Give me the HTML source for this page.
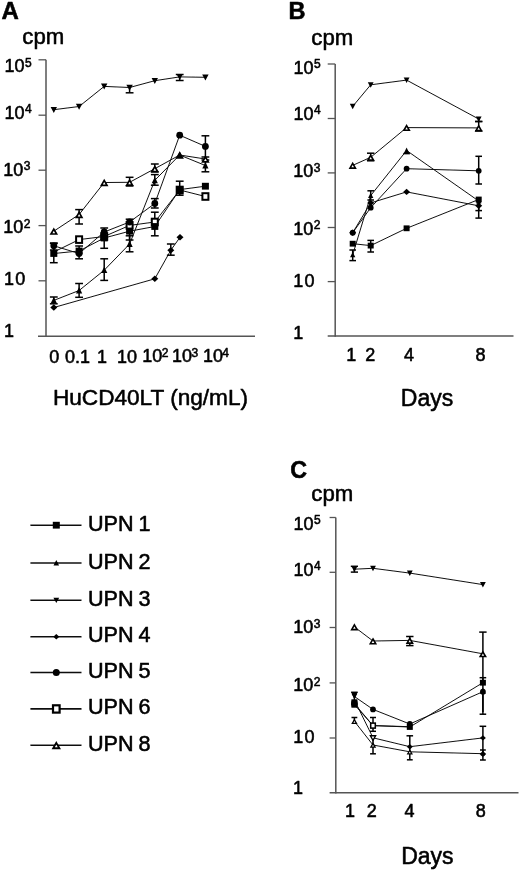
<!DOCTYPE html>
<html><head><meta charset="utf-8"><title>Figure</title>
<style>
html,body{margin:0;padding:0;background:#fff;}
body{width:520px;height:873px;overflow:hidden;}
svg{display:block;}
svg text{font-family:"Liberation Sans",sans-serif;fill:#000;stroke:#000;stroke-width:0.55px;stroke-linejoin:round;}
</style></head><body>
<svg width="520" height="873" viewBox="0 0 520 873">
<defs><filter id="soft" x="0" y="0" width="100%" height="100%" filterUnits="userSpaceOnUse"><feGaussianBlur stdDeviation="0.38"/></filter></defs>
<rect width="520" height="873" fill="#fff"/>
<g filter="url(#soft)">
<g id="panelA">
<line x1="46.0" y1="59.8" x2="46.0" y2="336.9" stroke="#555" stroke-width="1.5"/>
<line x1="38.0" y1="336.2" x2="255.0" y2="336.2" stroke="#555" stroke-width="1.5"/>
<line x1="38.5" y1="59.8" x2="46.0" y2="59.8" stroke="#555" stroke-width="1.3"/>
<line x1="38.5" y1="115.2" x2="46.0" y2="115.2" stroke="#555" stroke-width="1.3"/>
<line x1="38.5" y1="170.2" x2="46.0" y2="170.2" stroke="#555" stroke-width="1.3"/>
<line x1="38.5" y1="225.6" x2="46.0" y2="225.6" stroke="#555" stroke-width="1.3"/>
<line x1="38.5" y1="280.8" x2="46.0" y2="280.8" stroke="#555" stroke-width="1.3"/>
<text x="1.5" y="18.7" font-size="24" text-anchor="start" font-weight="bold">A</text>
<text x="22.3" y="44.0" font-size="22.2" text-anchor="start" font-weight="normal">cpm</text>
<text x="4.5" y="72.3" font-size="18">10<tspan font-size="12" dy="-5.5" dx="0.5">5</tspan></text>
<text x="4.5" y="118.5" font-size="18">10<tspan font-size="12" dy="-5.5" dx="0.5">4</tspan></text>
<text x="3.3" y="175.6" font-size="18">10<tspan font-size="12" dy="-5.5" dx="0.5">3</tspan></text>
<text x="3.3" y="233.0" font-size="18">10<tspan font-size="12" dy="-5.5" dx="0.5">2</tspan></text>
<text x="3.9" y="285.4" font-size="18" text-anchor="start" font-weight="normal" letter-spacing="1.3">10</text>
<text x="3.9" y="337.3" font-size="18" text-anchor="start" font-weight="normal">1</text>
<text x="54.3" y="362.5" font-size="18" text-anchor="middle" font-weight="normal">0</text>
<text x="77.5" y="362.5" font-size="18" text-anchor="middle" font-weight="normal">0.1</text>
<text x="102.0" y="362.5" font-size="18" text-anchor="middle" font-weight="normal">1</text>
<text x="127.0" y="362.5" font-size="18" text-anchor="middle" font-weight="normal">10</text>
<text x="142.3" y="362.0" font-size="18">10<tspan font-size="12" dy="-4.6" dx="-0.6">2</tspan></text>
<text x="172.1" y="362.0" font-size="18">10<tspan font-size="12" dy="-4.6" dx="-0.6">3</tspan></text>
<text x="202.9" y="362.0" font-size="18">10<tspan font-size="12" dy="-4.6" dx="-0.6">4</tspan></text>
<text x="150.5" y="404.5" font-size="22.6" text-anchor="middle" font-weight="normal">HuCD40LT (ng/mL)</text>
<polyline points="53.8,109.7 79.1,106.5 104.2,86.4 129.6,87.5 154.8,80.7 179.7,76.9 205.4,77.3" fill="none" stroke="#111" stroke-width="1.0"/>
<polyline points="53.8,307.5 154.8,278.8 170.8,250.2 180.0,237.3" fill="none" stroke="#111" stroke-width="1.0"/>
<polyline points="53.8,231.2 79.1,214.5 104.2,182.5 129.6,182.3 154.8,168.7 179.7,155.0 205.4,159.0" fill="none" stroke="#111" stroke-width="1.0"/>
<polyline points="53.8,300.4 79.1,290.5 104.2,270.2 129.6,244.0 154.8,180.3 179.7,155.0 205.4,165.5" fill="none" stroke="#111" stroke-width="1.0"/>
<polyline points="53.8,252.0 79.1,239.6 104.2,236.5 129.6,225.4 154.8,222.0 179.7,190.0 205.4,196.5" fill="none" stroke="#111" stroke-width="1.0"/>
<polyline points="53.8,253.5 79.1,251.0 104.2,238.0 129.6,231.2 154.8,226.5 179.7,189.6 205.4,186.2" fill="none" stroke="#111" stroke-width="1.0"/>
<polyline points="53.8,245.8 79.1,253.5 104.2,232.0 129.6,222.0 154.8,203.5 179.7,135.2 205.4,146.4" fill="none" stroke="#111" stroke-width="1.0"/>
<line x1="129.6" y1="87.5" x2="129.6" y2="92.8" stroke="#000" stroke-width="1.5"/>
<line x1="125.7" y1="92.8" x2="133.5" y2="92.8" stroke="#000" stroke-width="1.5"/>
<line x1="179.7" y1="74.5" x2="179.7" y2="80.5" stroke="#000" stroke-width="1.5"/>
<line x1="175.8" y1="74.5" x2="183.6" y2="74.5" stroke="#000" stroke-width="1.5"/>
<line x1="175.8" y1="80.5" x2="183.6" y2="80.5" stroke="#000" stroke-width="1.5"/>
<line x1="170.8" y1="244.0" x2="170.8" y2="255.2" stroke="#000" stroke-width="1.5"/>
<line x1="166.9" y1="244.0" x2="174.7" y2="244.0" stroke="#000" stroke-width="1.5"/>
<line x1="166.9" y1="255.2" x2="174.7" y2="255.2" stroke="#000" stroke-width="1.5"/>
<line x1="79.1" y1="209.6" x2="79.1" y2="224.0" stroke="#000" stroke-width="1.5"/>
<line x1="75.2" y1="209.6" x2="83.0" y2="209.6" stroke="#000" stroke-width="1.5"/>
<line x1="75.2" y1="224.0" x2="83.0" y2="224.0" stroke="#000" stroke-width="1.5"/>
<line x1="129.6" y1="177.3" x2="129.6" y2="186.0" stroke="#000" stroke-width="1.5"/>
<line x1="125.7" y1="177.3" x2="133.5" y2="177.3" stroke="#000" stroke-width="1.5"/>
<line x1="125.7" y1="186.0" x2="133.5" y2="186.0" stroke="#000" stroke-width="1.5"/>
<line x1="154.8" y1="164.0" x2="154.8" y2="172.0" stroke="#000" stroke-width="1.5"/>
<line x1="150.9" y1="164.0" x2="158.7" y2="164.0" stroke="#000" stroke-width="1.5"/>
<line x1="150.9" y1="172.0" x2="158.7" y2="172.0" stroke="#000" stroke-width="1.5"/>
<line x1="53.8" y1="297.0" x2="53.8" y2="303.8" stroke="#000" stroke-width="1.5"/>
<line x1="49.9" y1="297.0" x2="57.7" y2="297.0" stroke="#000" stroke-width="1.5"/>
<line x1="49.9" y1="303.8" x2="57.7" y2="303.8" stroke="#000" stroke-width="1.5"/>
<line x1="79.1" y1="283.5" x2="79.1" y2="297.3" stroke="#000" stroke-width="1.5"/>
<line x1="75.2" y1="283.5" x2="83.0" y2="283.5" stroke="#000" stroke-width="1.5"/>
<line x1="75.2" y1="297.3" x2="83.0" y2="297.3" stroke="#000" stroke-width="1.5"/>
<line x1="104.2" y1="258.8" x2="104.2" y2="280.4" stroke="#000" stroke-width="1.5"/>
<line x1="100.3" y1="258.8" x2="108.1" y2="258.8" stroke="#000" stroke-width="1.5"/>
<line x1="100.3" y1="280.4" x2="108.1" y2="280.4" stroke="#000" stroke-width="1.5"/>
<line x1="129.6" y1="235.8" x2="129.6" y2="251.8" stroke="#000" stroke-width="1.5"/>
<line x1="125.7" y1="235.8" x2="133.5" y2="235.8" stroke="#000" stroke-width="1.5"/>
<line x1="125.7" y1="251.8" x2="133.5" y2="251.8" stroke="#000" stroke-width="1.5"/>
<line x1="154.8" y1="174.6" x2="154.8" y2="185.2" stroke="#000" stroke-width="1.5"/>
<line x1="150.9" y1="174.6" x2="158.7" y2="174.6" stroke="#000" stroke-width="1.5"/>
<line x1="150.9" y1="185.2" x2="158.7" y2="185.2" stroke="#000" stroke-width="1.5"/>
<line x1="205.4" y1="160.0" x2="205.4" y2="171.8" stroke="#000" stroke-width="1.5"/>
<line x1="201.5" y1="160.0" x2="209.3" y2="160.0" stroke="#000" stroke-width="1.5"/>
<line x1="201.5" y1="171.8" x2="209.3" y2="171.8" stroke="#000" stroke-width="1.5"/>
<line x1="154.8" y1="212.2" x2="154.8" y2="222.0" stroke="#000" stroke-width="1.5"/>
<line x1="150.9" y1="212.2" x2="158.7" y2="212.2" stroke="#000" stroke-width="1.5"/>
<line x1="53.8" y1="243.5" x2="53.8" y2="262.7" stroke="#000" stroke-width="1.5"/>
<line x1="49.9" y1="243.5" x2="57.7" y2="243.5" stroke="#000" stroke-width="1.5"/>
<line x1="49.9" y1="262.7" x2="57.7" y2="262.7" stroke="#000" stroke-width="1.5"/>
<line x1="79.1" y1="246.0" x2="79.1" y2="258.8" stroke="#000" stroke-width="1.5"/>
<line x1="75.2" y1="246.0" x2="83.0" y2="246.0" stroke="#000" stroke-width="1.5"/>
<line x1="75.2" y1="258.8" x2="83.0" y2="258.8" stroke="#000" stroke-width="1.5"/>
<line x1="104.2" y1="228.0" x2="104.2" y2="248.3" stroke="#000" stroke-width="1.5"/>
<line x1="100.3" y1="228.0" x2="108.1" y2="228.0" stroke="#000" stroke-width="1.5"/>
<line x1="100.3" y1="248.3" x2="108.1" y2="248.3" stroke="#000" stroke-width="1.5"/>
<line x1="129.6" y1="219.2" x2="129.6" y2="240.0" stroke="#000" stroke-width="1.5"/>
<line x1="125.7" y1="219.2" x2="133.5" y2="219.2" stroke="#000" stroke-width="1.5"/>
<line x1="125.7" y1="240.0" x2="133.5" y2="240.0" stroke="#000" stroke-width="1.5"/>
<line x1="154.8" y1="220.0" x2="154.8" y2="235.8" stroke="#000" stroke-width="1.5"/>
<line x1="150.9" y1="220.0" x2="158.7" y2="220.0" stroke="#000" stroke-width="1.5"/>
<line x1="150.9" y1="235.8" x2="158.7" y2="235.8" stroke="#000" stroke-width="1.5"/>
<line x1="179.7" y1="181.2" x2="179.7" y2="195.2" stroke="#000" stroke-width="1.5"/>
<line x1="175.8" y1="181.2" x2="183.6" y2="181.2" stroke="#000" stroke-width="1.5"/>
<line x1="175.8" y1="195.2" x2="183.6" y2="195.2" stroke="#000" stroke-width="1.5"/>
<line x1="53.8" y1="243.0" x2="53.8" y2="250.0" stroke="#000" stroke-width="1.5"/>
<line x1="49.9" y1="243.0" x2="57.7" y2="243.0" stroke="#000" stroke-width="1.5"/>
<line x1="49.9" y1="250.0" x2="57.7" y2="250.0" stroke="#000" stroke-width="1.5"/>
<line x1="154.8" y1="198.6" x2="154.8" y2="208.0" stroke="#000" stroke-width="1.5"/>
<line x1="150.9" y1="198.6" x2="158.7" y2="198.6" stroke="#000" stroke-width="1.5"/>
<line x1="150.9" y1="208.0" x2="158.7" y2="208.0" stroke="#000" stroke-width="1.5"/>
<line x1="205.4" y1="135.8" x2="205.4" y2="157.0" stroke="#000" stroke-width="1.5"/>
<line x1="201.5" y1="135.8" x2="209.3" y2="135.8" stroke="#000" stroke-width="1.5"/>
<line x1="201.5" y1="157.0" x2="209.3" y2="157.0" stroke="#000" stroke-width="1.5"/>
<polygon points="50.6,106.9 57.0,106.9 53.8,112.9" fill="#000"/>
<polygon points="75.9,103.7 82.3,103.7 79.1,109.7" fill="#000"/>
<polygon points="101.0,83.6 107.4,83.6 104.2,89.6" fill="#000"/>
<polygon points="126.4,84.7 132.8,84.7 129.6,90.7" fill="#000"/>
<polygon points="151.6,77.9 158.0,77.9 154.8,83.9" fill="#000"/>
<polygon points="176.5,74.1 182.9,74.1 179.7,80.1" fill="#000"/>
<polygon points="202.2,74.5 208.6,74.5 205.4,80.5" fill="#000"/>
<polygon points="53.8,304.3 57.3,307.5 53.8,310.7 50.3,307.5" fill="#000"/>
<polygon points="154.8,275.6 158.3,278.8 154.8,282.0 151.3,278.8" fill="#000"/>
<polygon points="170.8,247.0 174.3,250.2 170.8,253.4 167.3,250.2" fill="#000"/>
<polygon points="180.0,234.1 183.5,237.3 180.0,240.5 176.5,237.3" fill="#000"/>
<polygon points="53.8,229.1 56.6,234.0 51.0,234.0" fill="#fff" stroke="#000" stroke-width="1.70" stroke-linejoin="miter"/>
<polygon points="79.1,212.4 81.9,217.3 76.3,217.3" fill="#fff" stroke="#000" stroke-width="1.70" stroke-linejoin="miter"/>
<polygon points="104.2,180.4 107.0,185.3 101.4,185.3" fill="#fff" stroke="#000" stroke-width="1.70" stroke-linejoin="miter"/>
<polygon points="129.6,180.2 132.4,185.1 126.8,185.1" fill="#fff" stroke="#000" stroke-width="1.70" stroke-linejoin="miter"/>
<polygon points="154.8,166.6 157.6,171.5 152.0,171.5" fill="#fff" stroke="#000" stroke-width="1.70" stroke-linejoin="miter"/>
<polygon points="179.7,152.9 182.5,157.8 176.9,157.8" fill="#fff" stroke="#000" stroke-width="1.70" stroke-linejoin="miter"/>
<polygon points="205.4,156.9 208.2,161.8 202.6,161.8" fill="#fff" stroke="#000" stroke-width="1.70" stroke-linejoin="miter"/>
<polygon points="53.8,297.0 56.9,303.3 50.7,303.3" fill="#000"/>
<polygon points="79.1,287.1 82.2,293.4 76.0,293.4" fill="#000"/>
<polygon points="104.2,266.8 107.3,273.1 101.1,273.1" fill="#000"/>
<polygon points="129.6,240.6 132.7,246.9 126.5,246.9" fill="#000"/>
<polygon points="154.8,176.9 157.9,183.2 151.7,183.2" fill="#000"/>
<polygon points="179.7,151.6 182.8,157.9 176.6,157.9" fill="#000"/>
<polygon points="205.4,162.1 208.5,168.4 202.3,168.4" fill="#000"/>
<rect x="76.1" y="236.3" width="6.0" height="6.6" fill="#fff" stroke="#000" stroke-width="2.00"/>
<rect x="101.2" y="233.2" width="6.0" height="6.6" fill="#fff" stroke="#000" stroke-width="2.00"/>
<rect x="126.6" y="222.1" width="6.0" height="6.6" fill="#fff" stroke="#000" stroke-width="2.00"/>
<rect x="151.8" y="218.7" width="6.0" height="6.6" fill="#fff" stroke="#000" stroke-width="2.00"/>
<rect x="176.7" y="186.7" width="6.0" height="6.6" fill="#fff" stroke="#000" stroke-width="2.00"/>
<rect x="202.4" y="193.2" width="6.0" height="6.6" fill="#fff" stroke="#000" stroke-width="2.00"/>
<rect x="50.3" y="250.1" width="7.0" height="6.8" fill="#000"/>
<rect x="75.6" y="247.6" width="7.0" height="6.8" fill="#000"/>
<rect x="100.7" y="234.6" width="7.0" height="6.8" fill="#000"/>
<rect x="126.1" y="227.8" width="7.0" height="6.8" fill="#000"/>
<rect x="151.3" y="223.1" width="7.0" height="6.8" fill="#000"/>
<rect x="176.2" y="186.2" width="7.0" height="6.8" fill="#000"/>
<rect x="201.9" y="182.8" width="7.0" height="6.8" fill="#000"/>
<circle cx="53.8" cy="245.8" r="3.4" fill="#000"/>
<circle cx="79.1" cy="253.5" r="3.4" fill="#000"/>
<circle cx="104.2" cy="232.0" r="3.4" fill="#000"/>
<circle cx="129.6" cy="222.0" r="3.4" fill="#000"/>
<circle cx="154.8" cy="203.5" r="3.4" fill="#000"/>
<circle cx="179.7" cy="135.2" r="3.4" fill="#000"/>
<circle cx="205.4" cy="146.4" r="3.4" fill="#000"/>
</g>
<g id="panelB">
<line x1="335.2" y1="64.0" x2="335.2" y2="336.7" stroke="#555" stroke-width="1.5"/>
<line x1="327.7" y1="336.0" x2="513.5" y2="336.0" stroke="#555" stroke-width="1.5"/>
<line x1="327.7" y1="64.0" x2="335.2" y2="64.0" stroke="#555" stroke-width="1.3"/>
<line x1="327.7" y1="118.5" x2="335.2" y2="118.5" stroke="#555" stroke-width="1.3"/>
<line x1="327.7" y1="172.9" x2="335.2" y2="172.9" stroke="#555" stroke-width="1.3"/>
<line x1="327.7" y1="227.5" x2="335.2" y2="227.5" stroke="#555" stroke-width="1.3"/>
<line x1="327.7" y1="281.6" x2="335.2" y2="281.6" stroke="#555" stroke-width="1.3"/>
<text x="288.6" y="18.5" font-size="23.5" text-anchor="start" font-weight="bold">B</text>
<text x="311.3" y="44.6" font-size="22.2" text-anchor="start" font-weight="normal">cpm</text>
<text x="293.5" y="73.8" font-size="18">10<tspan font-size="12" dy="-5.5" dx="0.5">5</tspan></text>
<text x="293.5" y="119.8" font-size="18">10<tspan font-size="12" dy="-5.5" dx="0.5">4</tspan></text>
<text x="293.2" y="177.3" font-size="18">10<tspan font-size="12" dy="-5.5" dx="0.5">3</tspan></text>
<text x="293.2" y="234.6" font-size="18">10<tspan font-size="12" dy="-5.5" dx="0.5">2</tspan></text>
<text x="293.2" y="286.8" font-size="18" text-anchor="start" font-weight="normal" letter-spacing="1.3">10</text>
<text x="293.2" y="338.5" font-size="18" text-anchor="start" font-weight="normal">1</text>
<text x="351.2" y="361.4" font-size="18" text-anchor="middle" font-weight="normal">1</text>
<text x="370.2" y="361.4" font-size="18" text-anchor="middle" font-weight="normal">2</text>
<text x="409.0" y="361.4" font-size="18" text-anchor="middle" font-weight="normal">4</text>
<text x="480.4" y="361.4" font-size="18" text-anchor="middle" font-weight="normal">8</text>
<text x="427.0" y="406.0" font-size="23" text-anchor="middle" font-weight="normal">Days</text>
<polyline points="352.7,106.4 370.7,84.8 406.6,80.1 478.7,119.0" fill="none" stroke="#111" stroke-width="1.0"/>
<polyline points="352.7,232.7 370.7,202.9 406.6,191.9 478.7,205.8" fill="none" stroke="#111" stroke-width="1.0"/>
<polyline points="352.7,254.8 370.7,195.6 406.6,150.5 478.7,201.0" fill="none" stroke="#111" stroke-width="1.0"/>
<polyline points="352.7,243.7 370.7,245.6 406.6,228.3 478.7,199.5" fill="none" stroke="#111" stroke-width="1.0"/>
<polyline points="352.7,232.7 370.7,207.7 406.6,168.7 478.7,170.8" fill="none" stroke="#111" stroke-width="1.0"/>
<polyline points="352.7,165.4 370.7,157.3 406.6,127.6 478.7,127.9" fill="none" stroke="#111" stroke-width="1.0"/>
<line x1="478.7" y1="117.0" x2="478.7" y2="121.5" stroke="#000" stroke-width="1.5"/>
<line x1="475.1" y1="121.5" x2="482.3" y2="121.5" stroke="#000" stroke-width="1.5"/>
<line x1="352.7" y1="250.0" x2="352.7" y2="260.6" stroke="#000" stroke-width="1.5"/>
<line x1="349.4" y1="250.0" x2="356.0" y2="250.0" stroke="#000" stroke-width="1.5"/>
<line x1="349.4" y1="260.6" x2="356.0" y2="260.6" stroke="#000" stroke-width="1.5"/>
<line x1="370.7" y1="190.8" x2="370.7" y2="200.0" stroke="#000" stroke-width="1.5"/>
<line x1="367.4" y1="190.8" x2="374.0" y2="190.8" stroke="#000" stroke-width="1.5"/>
<line x1="367.4" y1="200.0" x2="374.0" y2="200.0" stroke="#000" stroke-width="1.5"/>
<line x1="406.6" y1="150.0" x2="406.6" y2="153.6" stroke="#000" stroke-width="1.5"/>
<line x1="403.3" y1="153.6" x2="409.9" y2="153.6" stroke="#000" stroke-width="1.5"/>
<line x1="370.7" y1="240.4" x2="370.7" y2="252.0" stroke="#000" stroke-width="1.5"/>
<line x1="367.4" y1="240.4" x2="374.0" y2="240.4" stroke="#000" stroke-width="1.5"/>
<line x1="367.4" y1="252.0" x2="374.0" y2="252.0" stroke="#000" stroke-width="1.5"/>
<line x1="478.7" y1="199.0" x2="478.7" y2="218.1" stroke="#000" stroke-width="1.5"/>
<line x1="475.4" y1="218.1" x2="482.0" y2="218.1" stroke="#000" stroke-width="1.5"/>
<line x1="478.7" y1="199.0" x2="478.7" y2="210.6" stroke="#000" stroke-width="1.5"/>
<line x1="475.4" y1="210.6" x2="482.0" y2="210.6" stroke="#000" stroke-width="1.5"/>
<line x1="478.7" y1="156.3" x2="478.7" y2="184.0" stroke="#000" stroke-width="1.5"/>
<line x1="475.4" y1="156.3" x2="482.0" y2="156.3" stroke="#000" stroke-width="1.5"/>
<line x1="475.4" y1="184.0" x2="482.0" y2="184.0" stroke="#000" stroke-width="1.5"/>
<line x1="370.7" y1="153.2" x2="370.7" y2="160.8" stroke="#000" stroke-width="1.5"/>
<line x1="367.0" y1="153.2" x2="374.4" y2="153.2" stroke="#000" stroke-width="1.5"/>
<line x1="367.0" y1="160.8" x2="374.4" y2="160.8" stroke="#000" stroke-width="1.5"/>
<line x1="478.7" y1="121.5" x2="478.7" y2="131.0" stroke="#000" stroke-width="1.5"/>
<line x1="475.0" y1="121.5" x2="482.4" y2="121.5" stroke="#000" stroke-width="1.5"/>
<line x1="475.0" y1="131.0" x2="482.4" y2="131.0" stroke="#000" stroke-width="1.5"/>
<polygon points="349.8,103.8 355.6,103.8 352.7,109.3" fill="#000"/>
<polygon points="367.8,82.2 373.6,82.2 370.7,87.7" fill="#000"/>
<polygon points="403.7,77.5 409.5,77.5 406.6,83.0" fill="#000"/>
<polygon points="475.8,116.4 481.6,116.4 478.7,121.9" fill="#000"/>
<polygon points="352.7,229.5 356.2,232.7 352.7,235.9 349.2,232.7" fill="#000"/>
<polygon points="370.7,199.7 374.2,202.9 370.7,206.1 367.2,202.9" fill="#000"/>
<polygon points="406.6,188.7 410.1,191.9 406.6,195.1 403.1,191.9" fill="#000"/>
<polygon points="478.7,202.6 482.2,205.8 478.7,209.0 475.2,205.8" fill="#000"/>
<polygon points="352.7,251.9 355.3,257.3 350.1,257.3" fill="#000"/>
<polygon points="370.7,192.7 373.3,198.1 368.1,198.1" fill="#000"/>
<polygon points="406.6,147.6 409.2,153.0 404.0,153.0" fill="#000"/>
<polygon points="478.7,198.1 481.3,203.5 476.1,203.5" fill="#000"/>
<rect x="349.7" y="240.8" width="6.0" height="5.8" fill="#000"/>
<rect x="367.7" y="242.7" width="6.0" height="5.8" fill="#000"/>
<rect x="403.6" y="225.4" width="6.0" height="5.8" fill="#000"/>
<rect x="475.7" y="196.6" width="6.0" height="5.8" fill="#000"/>
<circle cx="352.7" cy="232.7" r="2.9" fill="#000"/>
<circle cx="370.7" cy="207.7" r="2.9" fill="#000"/>
<circle cx="406.6" cy="168.7" r="2.9" fill="#000"/>
<circle cx="478.7" cy="170.8" r="2.9" fill="#000"/>
<polygon points="352.7,163.4 355.4,168.1 350.0,168.1" fill="#fff" stroke="#000" stroke-width="1.61" stroke-linejoin="miter"/>
<polygon points="370.7,155.3 373.4,160.0 368.0,160.0" fill="#fff" stroke="#000" stroke-width="1.61" stroke-linejoin="miter"/>
<polygon points="406.6,125.6 409.3,130.3 403.9,130.3" fill="#fff" stroke="#000" stroke-width="1.61" stroke-linejoin="miter"/>
<polygon points="478.7,125.9 481.4,130.6 476.0,130.6" fill="#fff" stroke="#000" stroke-width="1.61" stroke-linejoin="miter"/>
<polygon points="476.0,201.1 481.4,201.1 478.7,206.2" fill="#000"/>
</g>
<g id="panelC">
<line x1="335.8" y1="517.5" x2="335.8" y2="793.4" stroke="#555" stroke-width="1.5"/>
<line x1="329.6" y1="792.7" x2="518.5" y2="792.7" stroke="#555" stroke-width="1.5"/>
<line x1="329.6" y1="517.5" x2="335.8" y2="517.5" stroke="#555" stroke-width="1.3"/>
<line x1="329.6" y1="572.3" x2="335.8" y2="572.3" stroke="#555" stroke-width="1.3"/>
<line x1="329.6" y1="627.5" x2="335.8" y2="627.5" stroke="#555" stroke-width="1.3"/>
<line x1="329.6" y1="682.9" x2="335.8" y2="682.9" stroke="#555" stroke-width="1.3"/>
<line x1="329.6" y1="738.0" x2="335.8" y2="738.0" stroke="#555" stroke-width="1.3"/>
<text x="290.2" y="478.2" font-size="23.3" text-anchor="start" font-weight="bold">C</text>
<text x="311.3" y="501.0" font-size="22.2" text-anchor="start" font-weight="normal">cpm</text>
<text x="293.5" y="529.8" font-size="18">10<tspan font-size="12" dy="-5.5" dx="0.5">5</tspan></text>
<text x="293.5" y="575.6" font-size="18">10<tspan font-size="12" dy="-5.5" dx="0.5">4</tspan></text>
<text x="293.2" y="633.3" font-size="18">10<tspan font-size="12" dy="-5.5" dx="0.5">3</tspan></text>
<text x="293.2" y="691.0" font-size="18">10<tspan font-size="12" dy="-5.5" dx="0.5">2</tspan></text>
<text x="293.2" y="742.9" font-size="18" text-anchor="start" font-weight="normal" letter-spacing="1.3">10</text>
<text x="293.0" y="794.3" font-size="18" text-anchor="start" font-weight="normal">1</text>
<text x="350.0" y="817.0" font-size="18" text-anchor="middle" font-weight="normal">1</text>
<text x="371.7" y="817.0" font-size="18" text-anchor="middle" font-weight="normal">2</text>
<text x="409.4" y="817.0" font-size="18" text-anchor="middle" font-weight="normal">4</text>
<text x="480.8" y="817.0" font-size="18" text-anchor="middle" font-weight="normal">8</text>
<text x="427.4" y="864.4" font-size="23" text-anchor="middle" font-weight="normal">Days</text>
<polyline points="354.4,569.2 373.0,568.3 409.8,573.1 482.9,584.6" fill="none" stroke="#111" stroke-width="1.0"/>
<polyline points="354.4,700.0 373.0,737.8 409.8,746.7 482.9,737.9" fill="none" stroke="#111" stroke-width="1.0"/>
<polyline points="354.4,721.3 373.0,745.0 409.8,751.8 482.9,753.7" fill="none" stroke="#111" stroke-width="1.0"/>
<polyline points="354.4,703.6 373.0,725.6 409.8,727.0 482.9,682.7" fill="none" stroke="#111" stroke-width="1.0"/>
<polyline points="354.4,704.6 373.0,725.6 409.8,726.7" fill="none" stroke="#111" stroke-width="1.0"/>
<polyline points="354.4,696.5 373.0,709.4 409.8,724.0 482.9,691.7" fill="none" stroke="#111" stroke-width="1.0"/>
<polyline points="354.4,626.9 373.0,641.0 409.8,640.4 482.9,653.8" fill="none" stroke="#111" stroke-width="1.0"/>
<line x1="354.4" y1="566.3" x2="354.4" y2="572.1" stroke="#000" stroke-width="1.5"/>
<line x1="350.8" y1="566.3" x2="358.0" y2="566.3" stroke="#000" stroke-width="1.5"/>
<line x1="350.8" y1="572.1" x2="358.0" y2="572.1" stroke="#000" stroke-width="1.5"/>
<line x1="409.8" y1="735.8" x2="409.8" y2="747.0" stroke="#000" stroke-width="1.5"/>
<line x1="406.5" y1="735.8" x2="413.1" y2="735.8" stroke="#000" stroke-width="1.5"/>
<line x1="482.9" y1="726.3" x2="482.9" y2="752.0" stroke="#000" stroke-width="1.5"/>
<line x1="479.6" y1="726.3" x2="486.2" y2="726.3" stroke="#000" stroke-width="1.5"/>
<line x1="354.4" y1="717.5" x2="354.4" y2="722.0" stroke="#000" stroke-width="1.5"/>
<line x1="351.5" y1="717.5" x2="357.3" y2="717.5" stroke="#000" stroke-width="1.5"/>
<line x1="373.0" y1="738.0" x2="373.0" y2="753.8" stroke="#000" stroke-width="1.5"/>
<line x1="370.1" y1="753.8" x2="375.9" y2="753.8" stroke="#000" stroke-width="1.5"/>
<line x1="409.8" y1="747.0" x2="409.8" y2="759.8" stroke="#000" stroke-width="1.5"/>
<line x1="406.9" y1="759.8" x2="412.7" y2="759.8" stroke="#000" stroke-width="1.5"/>
<line x1="482.9" y1="750.0" x2="482.9" y2="760.0" stroke="#000" stroke-width="1.5"/>
<line x1="480.0" y1="750.0" x2="485.8" y2="750.0" stroke="#000" stroke-width="1.5"/>
<line x1="480.0" y1="760.0" x2="485.8" y2="760.0" stroke="#000" stroke-width="1.5"/>
<line x1="354.4" y1="692.3" x2="354.4" y2="704.0" stroke="#000" stroke-width="1.5"/>
<line x1="351.1" y1="692.3" x2="357.7" y2="692.3" stroke="#000" stroke-width="1.5"/>
<line x1="351.1" y1="704.0" x2="357.7" y2="704.0" stroke="#000" stroke-width="1.5"/>
<line x1="482.9" y1="677.7" x2="482.9" y2="683.0" stroke="#000" stroke-width="1.5"/>
<line x1="479.6" y1="677.7" x2="486.2" y2="677.7" stroke="#000" stroke-width="1.5"/>
<line x1="373.0" y1="717.5" x2="373.0" y2="731.3" stroke="#000" stroke-width="1.5"/>
<line x1="370.0" y1="717.5" x2="376.0" y2="717.5" stroke="#000" stroke-width="1.5"/>
<line x1="370.0" y1="731.3" x2="376.0" y2="731.3" stroke="#000" stroke-width="1.5"/>
<line x1="482.9" y1="691.0" x2="482.9" y2="714.2" stroke="#000" stroke-width="1.5"/>
<line x1="479.6" y1="714.2" x2="486.2" y2="714.2" stroke="#000" stroke-width="1.5"/>
<line x1="409.8" y1="636.5" x2="409.8" y2="645.6" stroke="#000" stroke-width="1.5"/>
<line x1="406.1" y1="636.5" x2="413.5" y2="636.5" stroke="#000" stroke-width="1.5"/>
<line x1="406.1" y1="645.6" x2="413.5" y2="645.6" stroke="#000" stroke-width="1.5"/>
<line x1="482.9" y1="632.1" x2="482.9" y2="712.0" stroke="#000" stroke-width="1.5"/>
<line x1="479.2" y1="632.1" x2="486.6" y2="632.1" stroke="#000" stroke-width="1.5"/>
<polygon points="351.5,566.6 357.3,566.6 354.4,572.1" fill="#000"/>
<polygon points="370.1,565.7 375.9,565.7 373.0,571.2" fill="#000"/>
<polygon points="406.9,570.5 412.7,570.5 409.8,576.0" fill="#000"/>
<polygon points="480.0,582.0 485.8,582.0 482.9,587.5" fill="#000"/>
<polygon points="370.4,735.8 375.6,735.8 373.0,740.3" fill="#fff" stroke="#000" stroke-width="1.36" stroke-linejoin="miter"/>
<polygon points="409.8,744.0 412.8,746.7 409.8,749.4 406.8,746.7" fill="#000"/>
<polygon points="482.9,735.2 485.9,737.9 482.9,740.6 479.9,737.9" fill="#000"/>
<polygon points="354.4,719.7 356.5,723.4 352.3,723.4" fill="#fff" stroke="#000" stroke-width="1.27" stroke-linejoin="miter"/>
<polygon points="373.0,743.4 375.1,747.1 370.9,747.1" fill="#fff" stroke="#000" stroke-width="1.27" stroke-linejoin="miter"/>
<polygon points="409.8,750.2 411.9,753.9 407.7,753.9" fill="#fff" stroke="#000" stroke-width="1.27" stroke-linejoin="miter"/>
<rect x="351.4" y="700.7" width="6.0" height="5.8" fill="#000"/>
<rect x="406.8" y="724.1" width="6.0" height="5.8" fill="#000"/>
<rect x="479.9" y="679.8" width="6.0" height="5.8" fill="#000"/>
<rect x="370.7" y="723.1" width="4.6" height="5.0" fill="#fff" stroke="#000" stroke-width="1.53"/>
<polygon points="351.7,694.1 357.1,694.1 354.4,699.2" fill="#000"/>
<circle cx="373.0" cy="709.4" r="2.9" fill="#000"/>
<circle cx="409.8" cy="724.0" r="2.9" fill="#000"/>
<circle cx="482.9" cy="691.7" r="2.9" fill="#000"/>
<polygon points="354.4,624.9 357.1,629.6 351.7,629.6" fill="#fff" stroke="#000" stroke-width="1.61" stroke-linejoin="miter"/>
<polygon points="373.0,639.0 375.7,643.7 370.3,643.7" fill="#fff" stroke="#000" stroke-width="1.61" stroke-linejoin="miter"/>
<polygon points="409.8,638.4 412.5,643.1 407.1,643.1" fill="#fff" stroke="#000" stroke-width="1.61" stroke-linejoin="miter"/>
<polygon points="482.9,651.8 485.6,656.5 480.2,656.5" fill="#fff" stroke="#000" stroke-width="1.61" stroke-linejoin="miter"/>
<rect x="351.4" y="699.3" width="6.0" height="5.8" fill="#000"/>
<rect x="351.4" y="701.9" width="6.0" height="5.8" fill="#000"/>
<polygon points="351.2,692.5 357.6,692.5 354.4,698.5" fill="#000"/>
<polygon points="482.9,687.8 485.8,693.8 480.0,693.8" fill="#000"/>
<polygon points="482.9,750.9 486.2,753.9 482.9,756.9 479.6,753.9" fill="#000"/>
<polygon points="482.9,751.1 485.1,755.5 480.7,755.5" fill="#000"/>
</g>
<g id="legend">
<line x1="30.4" y1="525.2" x2="81.5" y2="525.2" stroke="#111" stroke-width="1.6"/>
<rect x="52.8" y="521.8" width="7.0" height="6.8" fill="#000"/>
<text x="88.0" y="530.7" font-size="21.6" text-anchor="start" font-weight="normal" word-spacing="-1.2">UPN 1</text>
<line x1="30.4" y1="563.0" x2="81.5" y2="563.0" stroke="#111" stroke-width="1.6"/>
<polygon points="56.3,559.9 59.1,565.6 53.5,565.6" fill="#000"/>
<text x="88.0" y="568.5" font-size="21.6" text-anchor="start" font-weight="normal" word-spacing="-1.2">UPN 2</text>
<line x1="30.4" y1="600.2" x2="81.5" y2="600.2" stroke="#111" stroke-width="1.6"/>
<polygon points="53.4,597.7 59.2,597.7 56.3,603.1" fill="#000"/>
<text x="88.0" y="605.7" font-size="21.6" text-anchor="start" font-weight="normal" word-spacing="-1.2">UPN 3</text>
<line x1="30.4" y1="636.7" x2="81.5" y2="636.7" stroke="#111" stroke-width="1.6"/>
<polygon points="56.3,634.0 59.3,636.7 56.3,639.4 53.3,636.7" fill="#000"/>
<text x="88.0" y="642.2" font-size="21.6" text-anchor="start" font-weight="normal" word-spacing="-1.2">UPN 4</text>
<line x1="30.4" y1="672.5" x2="81.5" y2="672.5" stroke="#111" stroke-width="1.6"/>
<circle cx="56.3" cy="672.5" r="3.5" fill="#000"/>
<text x="88.0" y="678.0" font-size="21.6" text-anchor="start" font-weight="normal" word-spacing="-1.2">UPN 5</text>
<line x1="30.4" y1="708.9" x2="81.5" y2="708.9" stroke="#111" stroke-width="1.6"/>
<rect x="53.0" y="705.3" width="6.6" height="7.3" fill="#fff" stroke="#000" stroke-width="2.20"/>
<text x="88.0" y="714.4" font-size="21.6" text-anchor="start" font-weight="normal" word-spacing="-1.2">UPN 6</text>
<line x1="30.4" y1="745.2" x2="81.5" y2="745.2" stroke="#111" stroke-width="1.6"/>
<polygon points="56.3,742.9 59.4,748.3 53.2,748.3" fill="#fff" stroke="#000" stroke-width="1.87" stroke-linejoin="miter"/>
<text x="88.0" y="750.7" font-size="21.6" text-anchor="start" font-weight="normal" word-spacing="-1.2">UPN 8</text>
</g>
</g></svg></body></html>
